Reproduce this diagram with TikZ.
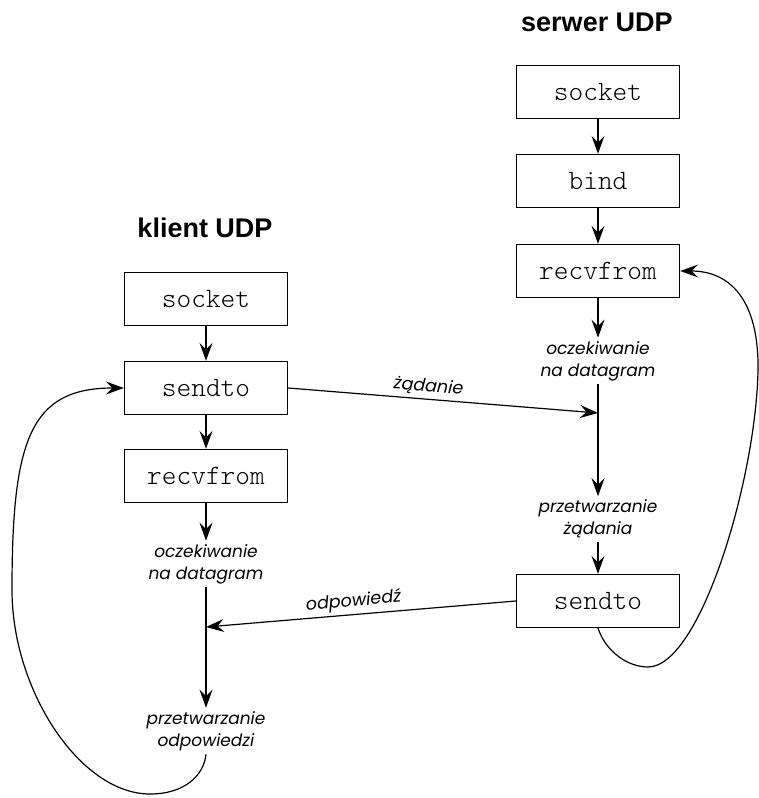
\documentclass[tikz,border=0pt]{standalone}
\usepackage{fontspec}
\setmainfont{Liberation Sans}
\newfontfamily\titlefont{Liberation Sans}
\newfontfamily\codefont{Latin Modern Mono Light}
\newfontfamily\notefont{Poppins}
\usetikzlibrary{arrows.meta}
\begin{document}
\begin{tikzpicture}[x=1pt,y=-1pt,
  line width=1.2pt,
  arr/.style={-{Stealth[length=18pt,width=13pt,inset=6.5pt]}},
  call/.style={draw,line width=1.4pt,minimum width=163pt,minimum height=53pt,
    inner sep=0pt,font=\codefont\fontsize{28}{28}\selectfont},
  note/.style={align=center,inner sep=3pt,
    font=\notefont\itshape\fontsize{17}{22}\selectfont},
  head/.style={font=\titlefont\bfseries\fontsize{27}{27}\selectfont},
  lbl/.style={font=\notefont\itshape\fontsize{17.5}{17.5}\selectfont,sloped,above}]
\useasboundingbox (0,0) rectangle (759,798);

% server side
\node[head] (stitle) at (597,22) {serwer UDP};
\node[call] (ssock) at (598,92) {socket};
\node[call] (sbind) at (598,181) {bind};
\node[call] (srecv) at (598,271) {recvfrom};
\node[note] (swait) at (598,361) {oczekiwanie\\na datagram};
\node[note] (sproc) at (598,519) {przetwarzanie\\żądania};
\node[call] (ssend) at (598,601) {sendto};
\coordinate (sj) at (598,413);

% client side
\node[head] (ctitle) at (205,228) {klient UDP};
\node[call] (csock) at (206,299) {socket};
\node[call] (csend) at (206,388) {sendto};
\node[call] (crecv) at (206,476) {recvfrom};
\node[note] (cwait) at (206,564) {oczekiwanie\\na datagram};
\node[note] (cproc) at (206,731) {przetwarzanie\\odpowiedzi};
\coordinate (cj) at (206,627);

% server flow
\draw[arr] (ssock) -- (sbind);
\draw[arr] (sbind) -- (srecv);
\draw[arr] (srecv) -- (swait);
\draw[arr] (swait) -- (sproc);
\draw[arr] (sproc) -- (ssend);
% server loop back to recvfrom
\draw[arr] (ssend.south) .. controls (606,652) and (628,667) .. (648,667)
  .. controls (700,667) and (756,480) .. (758,370)
  .. controls (759,300) and (730,271) .. (srecv.east);

% client flow
\draw[arr] (csock) -- (csend);
\draw[arr] (csend) -- (crecv);
\draw[arr] (crecv) -- (cwait);
\draw[arr] (cwait) -- (cproc);
% client loop back to sendto
\draw[arr] (cproc.south) .. controls (204,775) and (185,794) .. (150,794)
  .. controls (80,794) and (12,690) .. (12,590)
  .. controls (12,440) and (30,388) .. (csend.west);

% messages between the two sides
\draw[arr] (csend.east) -- node[lbl,pos=0.45] {żądanie} (sj);
\draw[arr] (ssend.west) -- node[lbl,pos=0.52] {odpowiedź} (cj);
\end{tikzpicture}
\end{document}
